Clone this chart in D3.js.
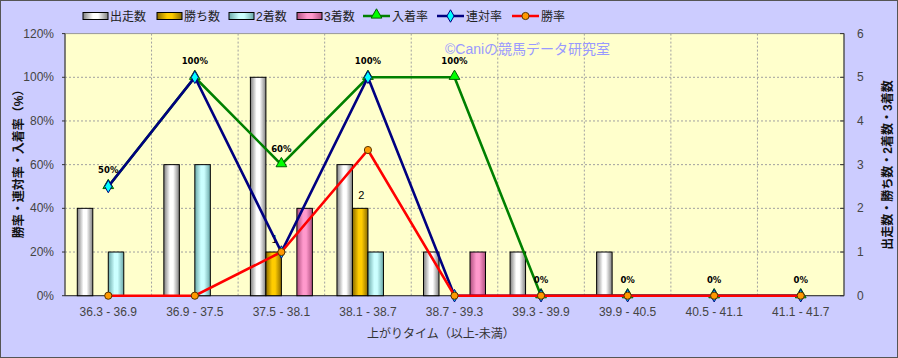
<!DOCTYPE html>
<html><head><meta charset="utf-8">
<script src="https://cdn.jsdelivr.net/npm/d3@7/dist/d3.min.js"></script>
<style>body{margin:0;background:#fff}svg{display:block}</style>
</head><body><svg id="c" width="898" height="358"></svg>
<script>
const categories = ["36.3 - 36.9","36.9 - 37.5","37.5 - 38.1","38.1 - 38.7","38.7 - 39.3","39.3 - 39.9","39.9 - 40.5","40.5 - 41.1","41.1 - 41.7"];
const runs    = [2,3,5,3,1,1,1,0,0];
const wins    = [0,0,1,2,0,0,0,0,0];
const seconds = [1,3,0,1,0,0,0,0,0];
const thirds  = [0,0,2,0,1,0,0,0,0];
const placeRate = [50,100,60,100,100,0,0,0,0];
const rentaiRate = [50,100,20,100,0,0,0,0,0];
const winRate = [0,0,20,66.7,0,0,0,0,0];
const leftTicks = [0,20,40,60,80,100,120];
const rightTicks = [0,1,2,3,4,5,6];

const svg = d3.select("#c");
const FONT = "'Liberation Sans','Noto Sans CJK JP',sans-serif";
const L=65, R=844, T=33.6, B=295.7;

svg.append("rect").attr("x",0.5).attr("y",0.5).attr("width",897).attr("height",357)
  .attr("fill","#ccccff").attr("stroke","#555");

const x0 = d3.scaleBand().domain(categories).range([L,R]).padding(0);
const bw = x0.bandwidth();
const barSeries = ["出走数","勝ち数","2着数","3着数"];
const x1 = d3.scaleBand().domain(barSeries).range([bw*0.142, bw*0.858]).padding(0);
const yL = d3.scaleLinear().domain([0,120]).range([B,T]);
const yR = d3.scaleLinear().domain([0,6]).range([B,T]);

// plot area
svg.append("rect").attr("x",L).attr("y",T).attr("width",R-L).attr("height",B-T)
  .attr("fill","#ffffcc").attr("stroke","#999").attr("stroke-width",1);

// gradients
const defs = svg.append("defs");
const gradSpecs = [
  {id:"g0", edge:"#808080", mid:"#ffffff"},
  {id:"g1", edge:"#8a6a00", mid:"#ffcc00"},
  {id:"g2", edge:"#6aa8a8", mid:"#ccffff"},
  {id:"g3", edge:"#b05080", mid:"#ff99cc"}
];
gradSpecs.forEach(g=>{
  const lg = defs.append("linearGradient").attr("id",g.id).attr("x1","0").attr("x2","1").attr("y1","0").attr("y2","0");
  lg.append("stop").attr("offset","0").attr("stop-color",g.edge);
  lg.append("stop").attr("offset","0.4").attr("stop-color",g.mid);
  lg.append("stop").attr("offset","0.6").attr("stop-color",g.mid);
  lg.append("stop").attr("offset","1").attr("stop-color",g.edge);
});

// gridlines
const grid = svg.append("g");
leftTicks.slice(1,-1).forEach(t=>{
  grid.append("line").attr("x1",L).attr("x2",R).attr("y1",yL(t)).attr("y2",yL(t))
    .attr("stroke","#a0a0a0").attr("stroke-dasharray","2,2");
});
categories.slice(1).forEach(c=>{
  grid.append("line").attr("x1",x0(c)).attr("x2",x0(c)).attr("y1",T).attr("y2",B)
    .attr("stroke","#a0a0a0").attr("stroke-dasharray","2,2");
});

// axes lines
svg.append("line").attr("x1",L).attr("x2",L).attr("y1",T).attr("y2",B).attr("stroke","#333");
svg.append("line").attr("x1",R).attr("x2",R).attr("y1",T).attr("y2",B).attr("stroke","#333");
svg.append("line").attr("x1",L).attr("x2",R).attr("y1",B).attr("y2",B).attr("stroke","#333");

// bars
const barData = [runs,wins,seconds,thirds];
const barG = svg.append("g");
barData.forEach((arr,si)=>{
  barG.selectAll(null).data(arr.map((v,i)=>({v,c:categories[i]}))).enter()
    .filter(d=>d.v>0)
    .append("rect")
    .attr("x",d=>x0(d.c)+x1(barSeries[si]))
    .attr("width",x1.bandwidth())
    .attr("y",d=>yR(d.v))
    .attr("height",d=>B-yR(d.v))
    .attr("fill",`url(#g${si})`).attr("stroke","#000").attr("stroke-width",1);
});
// wins labels
wins.forEach((v,i)=>{
  if(v>0) svg.append("text").attr("x",x0(categories[i])+x1("勝ち数")+x1.bandwidth()/2+1).attr("y",yR(v)-9)
    .attr("text-anchor","middle").attr("font-family",FONT).attr("font-size",11).attr("fill","#000").text(v);
});

// watermark
svg.append("text").attr("x",445).attr("y",54).attr("font-family",FONT).attr("font-size",14)
  .attr("fill","#9999ff").text("©Caniの競馬データ研究室");

// lines
const cx = c=>x0(c)+bw/2;
const lineGen = d3.line().x((d,i)=>cx(categories[i])).y(d=>yL(d));
function drawLine(arr,color){
  svg.append("path").attr("d",lineGen(arr)).attr("fill","none").attr("stroke",color).attr("stroke-width",2.6);
}
drawLine(placeRate,"#008000");
const tri = d3.symbol().type(d3.symbolTriangle).size(50);
placeRate.forEach((v,i)=>{
  svg.append("path").attr("d",tri()).attr("transform",`translate(${cx(categories[i])},${yL(v)-1})`)
    .attr("fill","#00ff00").attr("stroke","#006000").attr("stroke-width",1);
});
drawLine(rentaiRate,"#000080");
const dia = d3.symbol().type(d3.symbolDiamond).size(45);
rentaiRate.forEach((v,i)=>{
  svg.append("path").attr("d",dia()).attr("transform",`translate(${cx(categories[i])},${yL(v)})`)
    .attr("fill","#00ffff").attr("stroke","#000080").attr("stroke-width",1);
});
drawLine(winRate,"#ff0000");
winRate.forEach((v,i)=>{
  svg.append("circle").attr("cx",cx(categories[i])).attr("cy",yL(v)).attr("r",3.6)
    .attr("fill","#ff9900").attr("stroke","#553300").attr("stroke-width",1);
});
// place rate labels
placeRate.forEach((v,i)=>{
  svg.append("text").attr("x",cx(categories[i])).attr("y",yL(v)-13).attr("text-anchor","middle")
    .attr("font-family","'DejaVu Sans',sans-serif").attr("font-size",8.5).attr("font-weight","bold")
    .attr("fill","#000").text(v+"%");
});

// left ticks labels
leftTicks.forEach(t=>{
  svg.append("text").attr("x",54).attr("y",yL(t)+4).attr("text-anchor","end")
    .attr("font-family",FONT).attr("font-size",12).attr("fill","#444").text(t+"%");
});
rightTicks.forEach(t=>{
  svg.append("line").attr("x1",R-4).attr("x2",R).attr("y1",yR(t)).attr("y2",yR(t)).attr("stroke","#333");
  svg.append("text").attr("x",857).attr("y",yR(t)+4).attr("text-anchor","start")
    .attr("font-family",FONT).attr("font-size",12).attr("fill","#444").text(t);
});
leftTicks.forEach(t=>{
  svg.append("line").attr("x1",L-3).attr("x2",L).attr("y1",yL(t)).attr("y2",yL(t)).attr("stroke","#333");
});
// x labels
categories.forEach(c=>{
  svg.append("text").attr("x",cx(c)).attr("y",316).attr("text-anchor","middle")
    .attr("font-family",FONT).attr("font-size",12).attr("fill","#444").text(c);
});
svg.append("text").attr("x",441).attr("y",338).attr("text-anchor","middle")
  .attr("font-family",FONT).attr("font-size",12).attr("fill","#333").text("上がりタイム（以上-未満）");
// axis titles
svg.append("text").attr("transform","translate(23,161) rotate(-90)").attr("text-anchor","middle")
  .attr("font-family",FONT).attr("font-size",12).attr("font-weight","bold").attr("fill","#111").text("勝率・連対率・入着率（%）");
svg.append("text").attr("transform","translate(892,165) rotate(-90)").attr("text-anchor","middle")
  .attr("font-family",FONT).attr("font-size",12).attr("font-weight","bold").attr("fill","#111").text("出走数・勝ち数・2着数・3着数");

// legend
const leg = svg.append("g").attr("font-family",FONT).attr("font-size",12).attr("fill","#222");
const barLegX = [83,157,229,297];
barSeries.forEach((s,i)=>{
  leg.append("rect").attr("x",barLegX[i]).attr("y",12.5).attr("width",25).attr("height",7)
    .attr("fill",`url(#g${i})`).attr("stroke","#000");
  leg.append("text").attr("x",barLegX[i]+27).attr("y",21).text(s);
});
const lineLeg = [
  {x:363,name:"入着率",color:"#008000",m:"tri"},
  {x:437,name:"連対率",color:"#000080",m:"dia"},
  {x:512,name:"勝率",color:"#ff0000",m:"cir"}
];
lineLeg.forEach(l=>{
  leg.append("line").attr("x1",l.x).attr("x2",l.x+27).attr("y1",16).attr("y2",16).attr("stroke",l.color).attr("stroke-width",2.5);
  const mx=l.x+13.5;
  if(l.m==="tri") leg.append("path").attr("d",tri()).attr("transform",`translate(${mx},15)`).attr("fill","#00ff00").attr("stroke","#006000");
  if(l.m==="dia") leg.append("path").attr("d",dia()).attr("transform",`translate(${mx},16)`).attr("fill","#00ffff").attr("stroke","#000080");
  if(l.m==="cir") leg.append("circle").attr("cx",mx).attr("cy",16).attr("r",3.6).attr("fill","#ff9900").attr("stroke","#553300");
  leg.append("text").attr("x",l.x+29).attr("y",21).text(l.name);
});
</script></body></html>
